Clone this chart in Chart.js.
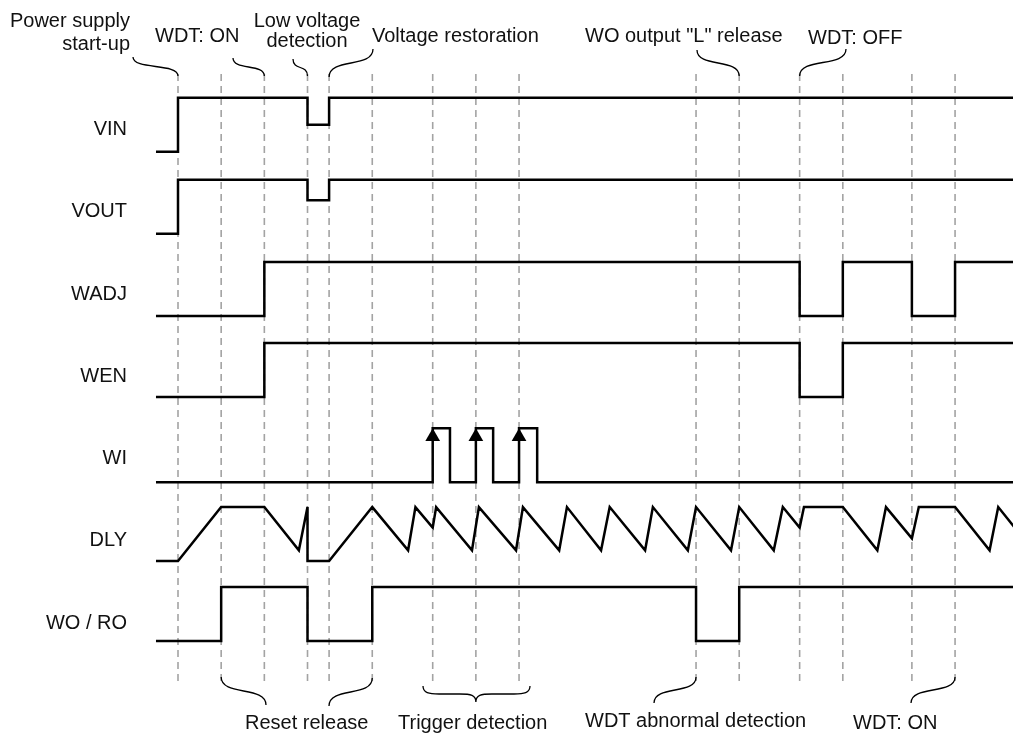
<!DOCTYPE html>
<html>
<head>
<meta charset="utf-8">
<script src="https://cdn.jsdelivr.net/npm/chart.js@4.4.1/dist/chart.umd.min.js"></script>
<style>
  html, body { margin: 0; padding: 0; background: #ffffff; }
  #wrap { width: 1013px; height: 738px; position: relative; }
</style>
</head>
<body>
<div id="wrap"><canvas id="c" width="1013" height="738"></canvas></div>
<script>
// ---------------- DATA (time in periods, levels 0 = low, 1 = high) ----------------
const signalNames = ["VIN", "VOUT", "WADJ", "WEN", "WI", "DLY", "WO / RO"];
const tBegin = -0.51;
const tFinish = 19.5;

const vinTimes   = [tBegin, 0, 3, 3.5];
const vinLevels  = [0, 1, 0.5, 1];

const voutTimes  = [tBegin, 0, 3, 3.5];
const voutLevels = [0, 1, 0.62, 1];

const wadjTimes  = [tBegin, 2, 14.4, 15.4, 17, 18];
const wadjLevels = [0, 1, 0, 1, 0, 1];

const wenTimes   = [tBegin, 2, 14.4, 15.4];
const wenLevels  = [0, 1, 0, 1];

const wiTimes    = [tBegin, 5.9, 6.3, 6.9, 7.3, 7.9, 8.32];
const wiLevels   = [0, 1, 0, 1, 0, 1, 0];
const wiTriggers = [5.9, 6.9, 7.9];

const dlyTimes  = [tBegin, 0, 1, 2, 2.8, 3, 3, 3.5, 4.5, 5.33,
                   5.5, 5.9, 5.98, 6.81, 6.97, 7.83, 7.99, 8.83, 9.01, 9.8,
                   10, 10.82, 11, 11.81, 12, 12.81, 13, 13.8, 14.01, 14.4,
                   14.5, 15.4, 16.2, 16.4, 17, 17.16, 18, 18.8, 19, 19.5];
const dlyLevels = [0, 0, 1, 1, 0.2, 1, 0, 0, 1, 0.2,
                   1, 0.62, 1, 0.2, 1, 0.2, 1, 0.2, 1, 0.2,
                   1, 0.2, 1, 0.2, 1, 0.2, 1, 0.2, 1, 0.62,
                   1, 1, 0.2, 1, 0.42, 1, 1, 0.2, 1, 0.5];

const woTimes    = [tBegin, 1, 3, 4.5, 12, 13];
const woLevels   = [0, 1, 0, 1, 0, 1];

const markerTimes = [0, 1, 2, 3, 3.5, 4.5, 5.9, 6.9, 7.9, 12, 13, 14.4, 15.4, 17, 18];

const topNotes = [
  { lines: ["Power supply", "start-up"], t: 0 },
  { lines: ["WDT: ON"], t: 2 },
  { lines: ["Low voltage", "detection"], t: 3 },
  { lines: ["Voltage restoration"], t: 3.5 },
  { lines: ["WO output \"L\" release"], t: 13 },
  { lines: ["WDT: OFF"], t: 14.4 }
];
const bottomNotes = ["Reset release", "Trigger detection", "WDT abnormal detection", "WDT: ON"];

// ---------------- LAYOUT ----------------
const laneOffsets = [9.06, 7.54, 6.02, 4.52, 2.94, 1.48, 0]; // lane low level, in amplitude units
const FONT = '20px "Liberation Sans", Arial, sans-serif';
const TEXT = '#111111';

function stepData(times, levels, lane) {
  const pts = times.map((t, i) => ({ x: t, y: laneOffsets[lane] + levels[i] }));
  pts.push({ x: tFinish, y: laneOffsets[lane] + levels[levels.length - 1] });
  return pts;
}
function lineData(times, levels, lane) {
  return times.map((t, i) => ({ x: t, y: laneOffsets[lane] + levels[i] }));
}

const sigStyle = {
  borderColor: '#000000', borderWidth: 2.5, pointRadius: 0, tension: 0,
  fill: false, borderJoinStyle: 'miter', borderCapStyle: 'butt'
};
const arrowR = 8.5;

const datasets = [
  Object.assign({ label: signalNames[0], data: stepData(vinTimes, vinLevels, 0), stepped: 'before' }, sigStyle),
  Object.assign({ label: signalNames[1], data: stepData(voutTimes, voutLevels, 1), stepped: 'before' }, sigStyle),
  Object.assign({ label: signalNames[2], data: stepData(wadjTimes, wadjLevels, 2), stepped: 'before' }, sigStyle),
  Object.assign({ label: signalNames[3], data: stepData(wenTimes, wenLevels, 3), stepped: 'before' }, sigStyle),
  Object.assign({ label: signalNames[4], data: stepData(wiTimes, wiLevels, 4), stepped: 'before' }, sigStyle),
  Object.assign({ label: signalNames[5], data: lineData(dlyTimes, dlyLevels, 5), stepped: false }, sigStyle),
  Object.assign({ label: signalNames[6], data: stepData(woTimes, woLevels, 6), stepped: 'before' }, sigStyle),
  {
    label: 'WI trigger', type: 'line', showLine: false,
    data: wiTriggers.map(t => ({ x: t, y: laneOffsets[4] + 1 - arrowR / 54 })),
    pointStyle: 'triangle', pointRadius: arrowR, pointBackgroundColor: '#000000',
    pointBorderWidth: 0, borderWidth: 0
  }
];

function sLead(ctx, x0, y0, x1, y1) {
  const dy = y1 - y0;
  ctx.beginPath();
  ctx.moveTo(x0, y0);
  ctx.bezierCurveTo(x0, y0 + dy * 0.7, x1, y1 - dy * 0.7, x1, y1);
  ctx.stroke();
}

const annotPlugin = {
  id: 'annot',
  beforeDatasetsDraw(chart) {
    const ctx = chart.ctx, xs = chart.scales.x;
    ctx.save();
    ctx.strokeStyle = '#a3a3a3';
    ctx.lineWidth = 1.6;
    ctx.setLineDash([7, 5]);
    markerTimes.forEach(t => {
      const px = xs.getPixelForValue(t);
      ctx.beginPath();
      ctx.moveTo(px, 74);
      ctx.lineTo(px, 686);
      ctx.stroke();
    });
    ctx.restore();
  },
  afterDraw(chart) {
    const ctx = chart.ctx, xs = chart.scales.x;
    const X = t => xs.getPixelForValue(t);
    ctx.save();
    ctx.font = FONT;
    ctx.fillStyle = TEXT;
    ctx.textBaseline = 'alphabetic';
    // signal names
    ctx.textAlign = 'right';
    signalNames.forEach((n, i) => ctx.fillText(n, 127, 128 + i * 82.25 + 7.2));

    // top texts
    ctx.textAlign = 'right';
    ctx.fillText(topNotes[0].lines[0], 130, 27);
    ctx.fillText(topNotes[0].lines[1], 130, 50);
    ctx.textAlign = 'left';
    ctx.fillText(topNotes[1].lines[0], 155, 42);
    ctx.textAlign = 'center';
    ctx.fillText(topNotes[2].lines[0], 307, 27);
    ctx.fillText(topNotes[2].lines[1], 307, 47);
    ctx.textAlign = 'left';
    ctx.fillText(topNotes[3].lines[0], 372, 42);
    ctx.fillText(topNotes[4].lines[0], 585, 42);
    ctx.fillText(topNotes[5].lines[0], 808, 44);

    // bottom texts
    ctx.fillText(bottomNotes[0], 245, 729);
    ctx.fillText(bottomNotes[1], 398, 729);
    ctx.fillText(bottomNotes[2], 585, 727);
    ctx.fillText(bottomNotes[3], 853, 729);

    // leaders
    ctx.strokeStyle = '#000000';
    ctx.lineWidth = 1.3;
    ctx.setLineDash([]);
    sLead(ctx, 133, 57, X(0), 76);
    sLead(ctx, 233, 58, X(2), 76);
    sLead(ctx, 293, 59, X(3), 76);
    sLead(ctx, 373, 49, X(3.5), 77);
    sLead(ctx, 697, 50, X(13), 76);
    sLead(ctx, 846, 49, X(14.4), 76);

    sLead(ctx, X(1), 677, 266, 705);
    sLead(ctx, X(4.5), 678, 329, 706);
    sLead(ctx, X(12), 677, 654, 703);
    sLead(ctx, X(18), 677, 911, 703);

    // trigger brace
    const bl = 423, br = 530, bc = X(6.9);
    ctx.beginPath();
    ctx.moveTo(bl, 686);
    ctx.bezierCurveTo(bl, 693, bl + 6, 694, bl + 16, 694);
    ctx.lineTo(bc - 16, 694);
    ctx.bezierCurveTo(bc - 5, 694, bc, 695, bc, 702);
    ctx.bezierCurveTo(bc, 695, bc + 5, 694, bc + 16, 694);
    ctx.lineTo(br - 16, 694);
    ctx.bezierCurveTo(br - 6, 694, br, 693, br, 686);
    ctx.stroke();
    ctx.restore();
  }
};

const PX_PER_T = 43.17, X0 = 178, AMP = 54, LOW_WO = 641;
new Chart(document.getElementById('c'), {
  type: 'line',
  data: { datasets },
  options: {
    responsive: false,
    animation: false,
    devicePixelRatio: 1,
    events: [],
    layout: { padding: 0, autoPadding: false },
    plugins: { legend: { display: false }, tooltip: { enabled: false } },
    scales: {
      x: { type: 'linear', display: false, min: -X0 / PX_PER_T, max: (1013 - X0) / PX_PER_T },
      y: { type: 'linear', display: false, min: -(738 - LOW_WO) / AMP, max: LOW_WO / AMP }
    }
  },
  plugins: [annotPlugin]
});
</script>
</body>
</html>
